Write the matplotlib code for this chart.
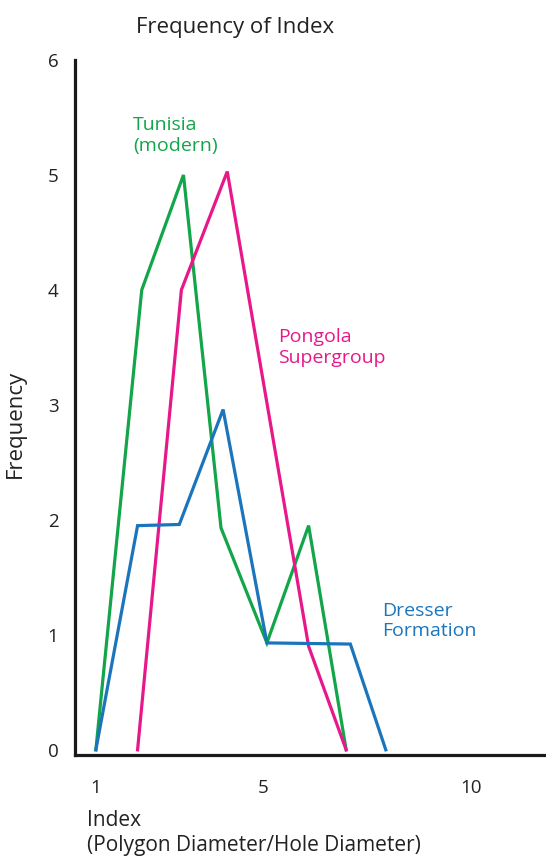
import matplotlib
matplotlib.use("Agg")
import matplotlib.pyplot as plt

plt.rcParams['font.family'] = ['Open Sans', 'DejaVu Sans']

# Tunisia (modern)
tunisia_x = [1, 2.1, 3.1, 4, 5.1, 6.1, 7]
tunisia_y = [0, 4.0, 5.0, 1.93, 0.93, 1.95, 0]

# Pongola Supergroup
pongola_x = [2, 3.05, 4.15, 6.1, 7]
pongola_y = [0, 4.0, 5.03, 0.9, 0]

# Dresser Formation
dresser_x = [1, 2, 3, 4.05, 5.1, 7.1, 7.95]
dresser_y = [0, 1.95, 1.96, 2.96, 0.93, 0.92, 0]

xticks = [1, 5, 10]
yticks = [0, 1, 2, 3, 4, 5, 6]

green = "#12a54a"
pink = "#e8188a"
blue = "#1a75bd"

fig = plt.figure(figsize=(5.46, 8.58), dpi=100)
ax = fig.add_axes([75 / 546, 1 - 755 / 858, 1 - 75 / 546, (755 - 60) / 858])

ax.plot(tunisia_x, tunisia_y, color=green, lw=2.3, solid_joinstyle="miter")
ax.plot(pongola_x, pongola_y, color=pink, lw=2.3, solid_joinstyle="miter")
ax.plot(dresser_x, dresser_y, color=blue, lw=2.3, solid_joinstyle="miter")

ax.set_xlim(0.5, 11.79)
ax.set_ylim(-0.045, 5.97)

for side in ["top", "right"]:
    ax.spines[side].set_visible(False)
for side in ["left", "bottom"]:
    ax.spines[side].set_linewidth(2.3)
    ax.spines[side].set_color("#1a1a1a")

ax.set_xticks(xticks)
ax.set_yticks(yticks)
ax.tick_params(axis="both", length=0, labelsize=13.5, colors="#222222")
ax.tick_params(axis="y", pad=12)
ax.tick_params(axis="x", pad=17)

# labels for each series
ax.text(1.89, 5.34, "Tunisia\n(modern)", color=green, fontsize=14, va="center", linespacing=1.2)
ax.text(5.36, 3.5, "Pongola\nSupergroup", color=pink, fontsize=14, va="center", linespacing=1.2)
ax.text(7.86, 1.12, "Dresser\nFormation", color=blue, fontsize=14, va="center", linespacing=1.2)

fig.text(235 / 546, 1 - 27 / 858, "Frequency of Index", fontsize=16, ha="center", va="center", color="#222222")
fig.text(15 / 546, 1 - 424 / 858, "Frequency", fontsize=16, rotation=90, ha="center", va="center", color="#222222")
fig.text(87 / 546, 1 - 820 / 858, "Index", fontsize=15, ha="left", va="center", color="#222222")
fig.text(87 / 546, 1 - 846 / 858, "(Polygon Diameter/Hole Diameter)", fontsize=15, ha="left", va="center", color="#222222")

fig.savefig("out.png", dpi=100)
